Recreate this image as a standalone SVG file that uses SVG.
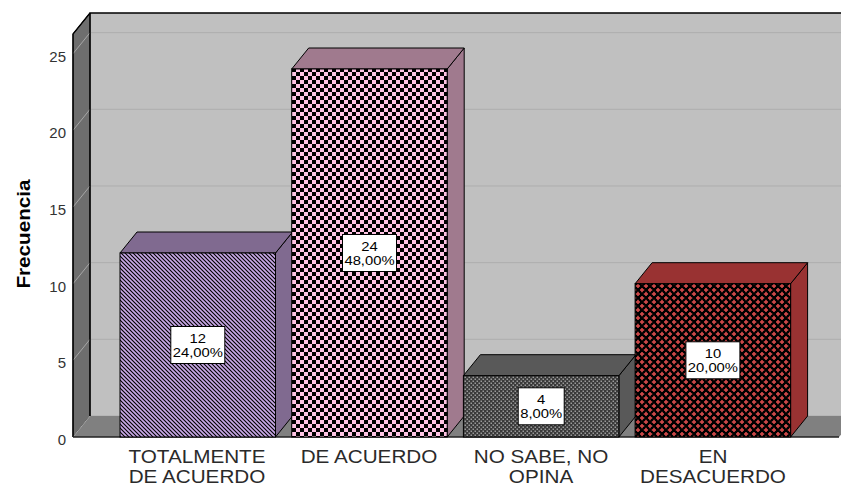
<svg xmlns="http://www.w3.org/2000/svg" width="841" height="488" viewBox="0 0 841 488">
<defs>
<style>
.wall{fill:#c0c0c0}
.lwall{fill:#6e6e6e;stroke:#000;stroke-width:1}
.floor{fill:#808080}
.grid{stroke:#adadad;stroke-width:1;fill:none}
.lgrid{stroke:#a6a6a6;stroke-width:1;fill:none}
.edge{stroke:#000;stroke-width:1.3;fill:none}
.face{stroke:#000;stroke-width:1}
.tick{font-family:"Liberation Sans",Arial,sans-serif;font-size:15px;fill:#333;text-anchor:end}
.cat{font-family:"Liberation Sans",Arial,sans-serif;font-size:18px;fill:#2a2a2a;text-anchor:middle}
.lbl{font-family:"Liberation Sans",Arial,sans-serif;font-size:13px;fill:#000;text-anchor:middle}
.box{fill:#fff;stroke:#000;stroke-width:1}
.ytitle{font-family:"Liberation Sans",Arial,sans-serif;font-size:18px;font-weight:bold;fill:#000;text-anchor:middle}
</style>
<pattern id="pStripe" patternUnits="userSpaceOnUse" width="4" height="4">
<rect width="4" height="4" fill="#c8a8e6"/>
<path d="M-1,-1 L5,5 M-1,3 L1,5 M3,-1 L5,1" stroke="#000" stroke-width="1.1"/>
</pattern>
<pattern id="pCheck" patternUnits="userSpaceOnUse" width="8" height="8">
<rect width="8" height="8" fill="#ffc4e4"/>
<rect x="0" y="0" width="4" height="4" fill="#000"/>
<rect x="4" y="4" width="4" height="4" fill="#000"/>
</pattern>
<pattern id="pDots" patternUnits="userSpaceOnUse" width="4" height="4">
<rect width="4" height="4" fill="#3a3a3a"/>
<rect x="0.5" y="0.5" width="1.5" height="1.5" fill="#9a9a9a"/>
<rect x="2.5" y="2.5" width="1.5" height="1.5" fill="#9a9a9a"/>
</pattern>
<pattern id="pCross" patternUnits="userSpaceOnUse" width="8" height="8">
<rect width="8" height="8" fill="#000"/>
<rect x="-0.2" y="1.2" width="4.4" height="1.6" fill="#d44a4a"/>
<rect x="1.2" y="-0.2" width="1.6" height="4.4" fill="#d44a4a"/>
<rect x="3.8" y="5.2" width="4.4" height="1.6" fill="#d44a4a"/>
<rect x="5.2" y="3.8" width="1.6" height="4.4" fill="#d44a4a"/>
</pattern>
</defs>
<rect width="841" height="488" fill="#fff"/>

<g id="frame">
<rect class="wall" x="90" y="13" width="760" height="403"/>
<g class="grid">
<line x1="90" y1="416" x2="841" y2="416"/>
<line x1="90" y1="339.3" x2="841" y2="339.3"/>
<line x1="90" y1="262.7" x2="841" y2="262.7"/>
<line x1="90" y1="186" x2="841" y2="186"/>
<line x1="90" y1="109.3" x2="841" y2="109.3"/>
<line x1="90" y1="32.7" x2="841" y2="32.7"/>
</g>
<polygon class="lwall" points="73,34 90,13 90,416 73,437"/>
<g class="lgrid">
<line x1="73" y1="360.3" x2="90" y2="339.3"/>
<line x1="73" y1="283.7" x2="90" y2="262.7"/>
<line x1="73" y1="207" x2="90" y2="186"/>
<line x1="73" y1="130.3" x2="90" y2="109.3"/>
<line x1="73" y1="53.7" x2="90" y2="32.7"/>
</g>
<polygon class="floor" points="73,437 90,416 858,416 839,437"/>
<line class="lgrid" x1="73" y1="437" x2="90" y2="416"/>
<path class="edge" d="M90,416 L90,13 L850,13"/>
<path class="edge" d="M73,437 L73,34 L90,13"/>
<line x1="73" y1="437" x2="839" y2="437" stroke="#222" stroke-width="1.5"/>
</g>

<g id="axis">
<text class="tick" x="66" y="445">0</text>
<text class="tick" x="66" y="368.3">5</text>
<text class="tick" x="66" y="291.7">10</text>
<text class="tick" x="66" y="215">15</text>
<text class="tick" x="66" y="138.3">20</text>
<text class="tick" x="66" y="61.7">25</text>
<text class="ytitle" transform="translate(30,234) rotate(-90) scale(1.15,1)">Frecuencia</text>
</g>

<g id="bar-totalmente">
<path class="face" fill="#806a90" d="M275.5,253 L292.5,232 L292.5,416 L275.5,437Z"/>
<path class="face" fill="#806a90" d="M120,253 L137,232 L292.5,232 L275.5,253Z"/>
<rect class="face" x="120" y="253" width="155.5" height="184" fill="url(#pStripe)"/>
<rect class="box" x="170.8" y="326.5" width="54" height="37"/>
<text class="lbl" transform="translate(197.8,342.5) scale(1.14,1)">12</text>
<text class="lbl" transform="translate(197.8,356.5) scale(1.14,1)">24,00%</text>
</g>

<g id="bar-de-acuerdo">
<path class="face" fill="#a07a8e" d="M447.2,69 L464.2,48 L464.2,416 L447.2,437Z"/>
<path class="face" fill="#a07a8e" d="M291.7,69 L308.7,48 L464.2,48 L447.2,69Z"/>
<rect class="face" x="291.7" y="69" width="155.5" height="368" fill="url(#pCheck)"/>
<rect class="box" x="342.5" y="234.5" width="54" height="37"/>
<text class="lbl" transform="translate(369.5,250.5) scale(1.14,1)">24</text>
<text class="lbl" transform="translate(369.5,264.5) scale(1.14,1)">48,00%</text>
</g>

<g id="bar-no-sabe">
<path class="face" fill="#595959" d="M618.9,375.7 L635.9,354.7 L635.9,416 L618.9,437Z"/>
<path class="face" fill="#595959" d="M463.4,375.7 L480.4,354.7 L635.9,354.7 L618.9,375.7Z"/>
<rect class="face" x="463.4" y="375.7" width="155.5" height="61.3" fill="url(#pDots)"/>
<rect class="box" x="518.2" y="387.8" width="46" height="37"/>
<text class="lbl" transform="translate(541.2,403.8) scale(1.14,1)">4</text>
<text class="lbl" transform="translate(541.2,417.8) scale(1.14,1)">8,00%</text>
</g>

<g id="bar-en-desacuerdo">
<path class="face" fill="#993232" d="M790.6,283.7 L807.6,262.7 L807.6,416 L790.6,437Z"/>
<path class="face" fill="#993232" d="M635.1,283.7 L652.1,262.7 L807.6,262.7 L790.6,283.7Z"/>
<rect class="face" x="635.1" y="283.7" width="155.5" height="153.3" fill="url(#pCross)"/>
<rect class="box" x="685.9" y="341.8" width="54" height="37"/>
<text class="lbl" transform="translate(712.9,357.8) scale(1.14,1)">10</text>
<text class="lbl" transform="translate(712.9,371.8) scale(1.14,1)">20,00%</text>
</g>

<g id="categories">
<text class="cat" transform="translate(197,463) scale(1.15,1)">TOTALMENTE</text>
<text class="cat" transform="translate(197,483) scale(1.15,1)">DE ACUERDO</text>
<text class="cat" transform="translate(369,463) scale(1.15,1)">DE ACUERDO</text>
<text class="cat" transform="translate(541,463) scale(1.15,1)">NO SABE, NO</text>
<text class="cat" transform="translate(541,483) scale(1.15,1)">OPINA</text>
<text class="cat" transform="translate(713,463) scale(1.15,1)">EN</text>
<text class="cat" transform="translate(713,483) scale(1.15,1)">DESACUERDO</text>
</g>
</svg>
